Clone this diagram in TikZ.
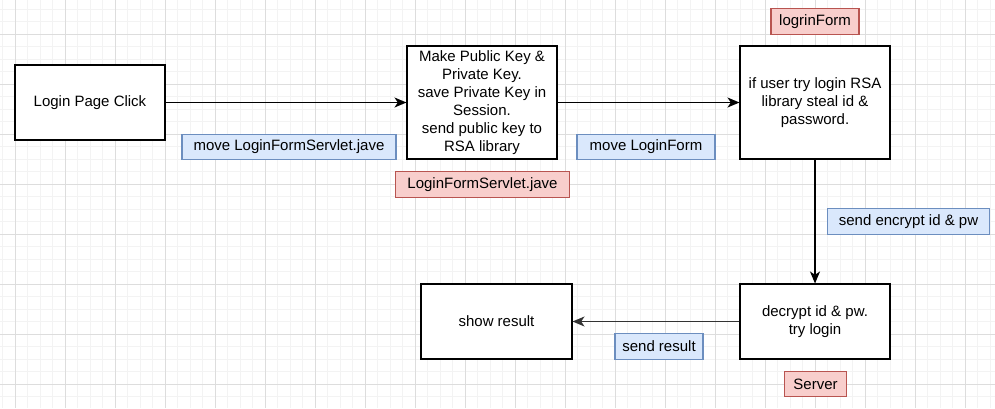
\documentclass[tikz,border=0pt]{standalone}
\usepackage{fontspec}
\setmainfont{Liberation Sans}
\usepackage{tikz}
\usetikzlibrary{arrows.meta}
\usepackage{xcolor}
\definecolor{noteblue}{HTML}{DAE8FC}
\definecolor{noteblueline}{HTML}{6C8EBF}
\definecolor{notered}{HTML}{F8CECC}
\definecolor{noteredline}{HTML}{B85450}
\definecolor{gridmajor}{HTML}{DDDDDD}
\definecolor{gridminor}{HTML}{F3F3F3}

\begin{document}
\begin{tikzpicture}[
    x=0.75pt, y=-0.75pt,
    box/.style={draw, line width=0.8pt, fill=white, align=center,
                inner sep=2pt, font=\fontsize{11.25}{13.4}\selectfont},
    blue note/.style={draw=noteblueline, fill=noteblue, line width=0.8pt,
                inner sep=0pt, font=\fontsize{11.25}{13.4}\selectfont},
    red note/.style={draw=noteredline, fill=notered, line width=0.8pt,
                inner sep=0pt, font=\fontsize{11.25}{13.4}\selectfont},
    flow/.style={-{Stealth[length=9pt, width=7.5pt, inset=2.5pt]}, line width=0.9pt},
]
\useasboundingbox (0,0) rectangle (995,408);
\fill[white] (0,0) rectangle (995,408);

% background grid (minor every 12.5, major every 50)
\foreach \gx in {2.5,15,...,995}{
    \draw[gridminor, line width=0.6pt] (\gx,0) -- (\gx,408);
}
\foreach \gy in {9,21.5,...,408}{
    \draw[gridminor, line width=0.6pt] (0,\gy) -- (995,\gy);
}
\foreach \gx in {15,65,...,995}{
    \draw[gridmajor, line width=0.6pt] (\gx,0) -- (\gx,408);
}
\foreach \gy in {34,84,...,408}{
    \draw[gridmajor, line width=0.6pt] (0,\gy) -- (995,\gy);
}

% rows
\def\ytop{102.5}   % upper row
\def\ybot{321.5}   % lower row

% process boxes
\node[box, minimum width=112.5pt, minimum height=56.25pt] (click) at (90,\ytop)
    {Login Page Click};
\node[box, minimum width=112.5pt, minimum height=84.75pt] (keys) at (482,\ytop)
    {Make Public Key \&\\Private Key.\\save Private Key in\\Session.\\send public key to\\RSA library};
\node[box, minimum width=112.5pt, minimum height=84.75pt] (steal) at (815,\ytop)
    {if user try login RSA\\library steal id \&\\password.};
\node[box, minimum width=112.5pt, minimum height=56.25pt] (decrypt) at (815,\ybot)
    {decrypt id \& pw.\\try login};
\node[box, minimum width=113.25pt, minimum height=56.25pt] (result) at (496.5,\ybot)
    {show result};

% connectors
\draw[flow] (click) -- (keys);
\draw[flow] (keys) -- (steal);
\draw[flow] (steal) -- (decrypt);
\draw[flow, draw=black!80, fill=black!80] (decrypt) -- (result);

% blue notes on the connectors
\node[blue note, minimum width=160.5pt, minimum height=19pt] (moveservlet) at (289,147)
    {move LoginFormServlet.jave};
\node[blue note, minimum width=103.5pt, minimum height=19pt] (moveform) at (646,147)
    {move LoginForm};
\node[blue note, minimum width=122pt, minimum height=19pt] (sendenc) at (908.5,221.5)
    {send encrypt id \& pw};
\node[blue note, minimum width=66pt, minimum height=19pt] (sendres) at (659,346.5)
    {send result};

% red notes (where it runs)
\node[red note, minimum width=131pt, minimum height=19pt] (servletfile) at (482.5,184.5)
    {LoginFormServlet.jave};
\node[red note, minimum width=66pt, minimum height=19pt] (formfile) at (815,21.5)
    {logrinForm};
\node[red note, minimum width=47pt, minimum height=19pt] (server) at (815.5,384)
    {Server};

\end{tikzpicture}
\end{document}
